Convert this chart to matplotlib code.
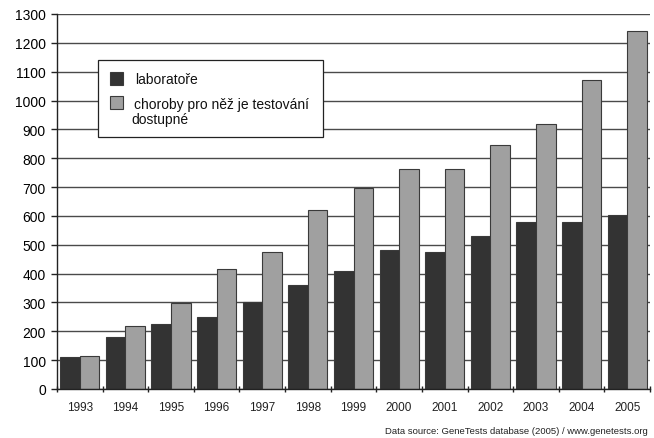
import numpy as np
import matplotlib
matplotlib.use("Agg")
import matplotlib.pyplot as plt
from matplotlib.patches import Rectangle

plt.rcParams['font.family'] = ['Liberation Sans', 'DejaVu Sans']

years = ['1993', '1994', '1995', '1996', '1997', '1998', '1999',
         '2000', '2001', '2002', '2003', '2004', '2005']
laboratore = [110, 180, 225, 250, 300, 360, 410, 482, 476, 530, 578, 578, 602]
choroby = [115, 218, 297, 415, 475, 620, 698, 762, 762, 845, 920, 1072, 1240]
label_lab = 'laboratoře'
label_chor = 'choroby pro něž je testování'
label_chor2 = 'dostupné'
source_text = 'Data source: GeneTests database (2005) / www.genetests.org'

dark = '#333333'
light = '#a0a0a0'
edge = '#3a3a3a'
grid_c = '#4a4a4a'

W, H = 654, 439
fig = plt.figure(figsize=(W / 100, H / 100), dpi=100)
ax = fig.add_axes([57 / W, 49 / H, 593 / W, 375 / H])

x = np.arange(len(years))
w = 0.43
ax.set_axisbelow(True)
ax.yaxis.grid(True, color=grid_c, linewidth=1.0)
ax.bar(x - w / 2, laboratore, width=w, color=dark, edgecolor=edge, linewidth=0.8)
ax.bar(x + w / 2, choroby, width=w, color=light, edgecolor=edge, linewidth=0.8)

ax.set_xlim(-0.5, len(years) - 0.5)
ax.set_ylim(0, 1300)
ax.set_yticks(np.arange(0, 1301, 100))
ax.tick_params(axis='y', labelsize=10, length=4, width=1, color='#222222', pad=4)

ax.set_xticks(x)
ax.set_xticklabels(years)
ax.tick_params(axis='x', which='major', length=0, labelsize=8.5, pad=9, labelcolor='#222222')
ax.set_xticks(np.arange(-0.5, len(years), 1.0), minor=True)
ax.tick_params(axis='x', which='minor', length=5, width=1, color='#222222', direction='inout')

for s in ('top', 'right'):
    ax.spines[s].set_visible(False)
for s in ('left', 'bottom'):
    ax.spines[s].set_color('#222222')
    ax.spines[s].set_linewidth(1.0)


def px(xp, yp):
    """Pixel position (from top-left) to figure fraction."""
    return xp / W, 1 - yp / H


# legend box drawn in figure pixels
bx, by = px(98, 138)
fig.patches.append(Rectangle((bx, by), 225 / W, 77 / H, transform=fig.transFigure,
                             facecolor='white', edgecolor='#222222', linewidth=0.9,
                             zorder=5))
for (col, ytop) in ((dark, 86), (light, 110)):
    sx, sy = px(110, ytop)
    fig.patches.append(Rectangle((sx, sy), 13 / W, 13 / H, transform=fig.transFigure,
                                 facecolor=col, edgecolor=edge, linewidth=0.8,
                                 zorder=6))
fig.text(*px(135, 80), label_lab, ha='left', va='center', fontsize=10,
         color='#111111', zorder=7)
fig.text(*px(134, 105), label_chor, ha='left', va='center', fontsize=10,
         color='#111111', zorder=7)
fig.text(*px(131, 120), label_chor2, ha='left', va='center', fontsize=10,
         color='#111111', zorder=7)

fig.text(*px(648, 432), source_text, ha='right', va='center',
         fontsize=6.8, color='#222222')

fig.savefig('out.png', dpi=100)
